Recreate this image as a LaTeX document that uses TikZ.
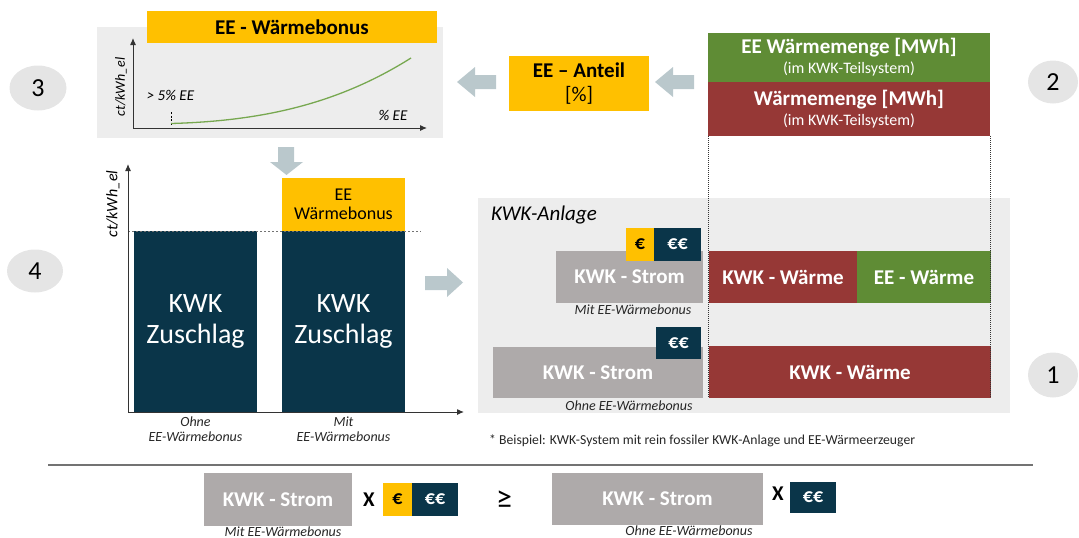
\documentclass[tikz,border=0pt]{standalone}
\usepackage{fontspec}
\setmainfont{Carlito}
\usetikzlibrary{arrows.meta,shapes.geometric}
\definecolor{eeyellow}{HTML}{FFC000}
\definecolor{eegreen}{HTML}{5F8C35}
\definecolor{kwkred}{HTML}{963836}
\definecolor{navy}{HTML}{0A3549}
\definecolor{stromgray}{HTML}{AEAAAA}
\definecolor{panelgray}{HTML}{EDEDED}
\definecolor{arrowgray}{HTML}{BAC8CC}
\definecolor{circgray}{HTML}{E5E5E5}
\definecolor{curvegreen}{HTML}{77A850}
\tikzset{
  box/.style={inner sep=0pt, outer sep=0pt, align=center},
  panel/.style={box, fill=panelgray},
  ybox/.style={box, fill=eeyellow, text=black},
  gbox/.style={box, fill=eegreen, text=white},
  rbox/.style={box, fill=kwkred, text=white},
  nbox/.style={box, fill=navy, text=white},
  sbox/.style={box, fill=stromgray, text=white},
  boxlabel/.style={font=\fontsize{21}{23}\selectfont\bfseries},
  note/.style={inner sep=0pt, align=center, font=\fontsize{14}{16}\selectfont\itshape, text=black!85},
  num/.style={ellipse, fill=circgray, inner sep=0pt, font=\fontsize{26}{28}\selectfont},
  axis/.style={line width=1pt, black!80, -{Latex[length=7pt,width=6pt]}},
  blockarrow/.style={fill=arrowgray},
  euro/.style={font=\fontsize{20}{22}\selectfont\bfseries},
}
\begin{document}
\begin{tikzpicture}[x=1pt,y=-1pt]
\useasboundingbox (0,0) rectangle (1079,538);

% ---------- Block 3: bonus curve ----------
\node[panel, minimum width=346pt, minimum height=111pt] (p3) at (270,82.5) {};
\node[ybox, minimum width=290pt, minimum height=32pt, font=\fontsize{21}{23}\selectfont\bfseries] (title) at (292,27) {EE - Wärmebonus};
\coordinate (o3) at (133,128);
\coordinate (y3) at (133,38);
\coordinate (x3) at (427,128);
\draw[axis] (o3) -- (y3);
\draw[axis] (o3) -- (x3);
\node[inner sep=0pt, rotate=90, font=\fontsize{14}{16}\selectfont\itshape] (yl3) at (121,87) {ct/kWh\_el};
\coordinate (d1) at (171,112);
\coordinate (d2) at (171,126);
\draw[dashed, dash pattern=on 2pt off 1.5pt, line width=0.7pt] (d1) -- (d2);
\node[inner sep=0pt, font=\fontsize{15}{17}\selectfont\itshape] (gt5) at (170.5,95) {> 5\% EE};
\node[inner sep=0pt, font=\fontsize{15}{17}\selectfont\itshape] (pee) at (393,115) {\% EE};
\coordinate (c0) at (171,123.5);
\coordinate (c3) at (411,58);
\draw[curvegreen, line width=1.3pt] (c0) .. controls (262,121) and (338,104) .. (c3);

% ---------- Block 2 ----------
\node[gbox, minimum width=282pt, minimum height=49pt, font=\fontsize{16}{20}\selectfont] (eew) at (849,57.5) {{\fontsize{21}{20}\selectfont\bfseries EE Wärmemenge [MWh]}\\(im KWK-Teilsystem)};
\node[rbox, minimum width=282pt, minimum height=54pt, font=\fontsize{16}{20}\selectfont] (ww) at (849,109) {{\fontsize{21}{20}\selectfont\bfseries Wärmemenge [MWh]}\\(im KWK-Teilsystem)};
\node[ybox, minimum width=140pt, minimum height=55pt, font=\fontsize{21}{24}\selectfont] (anteil) at (579,83.5) {\textbf{EE – Anteil}\\{}[\%]};

% left block arrows
\fill[blockarrow] (457,82) -- (475,67) -- (475,75) -- (496,75) -- (496,89) -- (475,89) -- (475,97) -- cycle;
\fill[blockarrow] (655,82) -- (673,67) -- (673,75) -- (694,75) -- (694,89) -- (673,89) -- (673,97) -- cycle;

% ---------- Block 4: bars ----------
\fill[blockarrow] (278,147) -- (294,147) -- (294,162) -- (303,162) -- (286.5,175) -- (270,162) -- (278,162) -- cycle;
\coordinate (o4) at (128,412);
\coordinate (y4) at (128,164);
\coordinate (x4) at (464,412);
\node[box, fill=navy, text=white, minimum width=123pt, minimum height=181pt, font=\fontsize{28}{31}\selectfont] (bar1) at (195.5,321.5) {KWK\\Zuschlag};
\node[box, fill=navy, text=white, minimum width=123pt, minimum height=181pt, font=\fontsize{28}{31}\selectfont] (bar2) at (343.5,321.5) {KWK\\Zuschlag};
\node[ybox, minimum width=123pt, minimum height=53pt, font=\fontsize{18}{19}\selectfont] (bonus) at (343.5,204.5) {EE\\Wärmebonus};
\coordinate (dl1) at (128,231);
\coordinate (dl2) at (421,231);
\draw[black!55, dashed, dash pattern=on 2pt off 2pt, line width=0.7pt] (dl1) -- (dl2);
\draw[axis] (o4) -- (y4);
\draw[axis] (o4) -- (x4);
\node[inner sep=0pt, rotate=90, font=\fontsize{16}{18}\selectfont\itshape] (yl4) at (113,204) {ct/kWh\_el};
\node[note, font=\fontsize{14}{14.5}\selectfont\itshape] (ohne4) at (195.5,429) {Ohne\\EE-Wärmebonus};
\node[note, font=\fontsize{14}{14.5}\selectfont\itshape] (mit4) at (343.5,429) {Mit\\EE-Wärmebonus};
\fill[blockarrow] (425,276) -- (447,276) -- (447,268) -- (463,282.5) -- (447,297) -- (447,290) -- (425,290) -- cycle;

% ---------- Block 1: KWK-Anlage ----------
\node[panel, minimum width=532pt, minimum height=215pt] (p1) at (744,305.5) {};
\node[anchor=west, inner sep=0pt, font=\fontsize{21}{23}\selectfont\itshape] (anl) at (491,215) {KWK-Anlage};
\node[sbox, boxlabel, minimum width=147pt, minimum height=52pt] (s1) at (629.5,277) {KWK - Strom};
\node[ybox, euro, minimum width=28pt, minimum height=33pt] (e1) at (640,244.5) {€};
\node[nbox, euro, minimum width=47pt, minimum height=33pt] (ee1) at (677.5,244.5) {€€};
\node[note] (mit1) at (633,310) {Mit EE-Wärmebonus};
\node[sbox, boxlabel, minimum width=210pt, minimum height=51pt] (s2) at (598,372.5) {KWK - Strom};
\node[nbox, euro, minimum width=45pt, minimum height=32pt] (ee2) at (678.5,343) {€€};
\node[note] (ohne1) at (629,406) {Ohne EE-Wärmebonus};
\node[rbox, boxlabel, minimum width=148pt, minimum height=52pt] (w1) at (783,277) {KWK - Wärme};
\node[gbox, boxlabel, minimum width=134pt, minimum height=52pt] (eew1) at (924,277) {EE - Wärme};
\node[rbox, boxlabel, minimum width=282pt, minimum height=52pt] (w2) at (850,372) {KWK - Wärme};
\coordinate (v1a) at (708,136);
\coordinate (v1b) at (708,398);
\coordinate (v2a) at (990.5,136);
\coordinate (v2b) at (990.5,398);
\draw[black!80, line width=0.6pt, dash pattern=on 1pt off 1pt] (v1a) -- (v1b);
\draw[black!80, line width=0.6pt, dash pattern=on 1pt off 1pt] (v2a) -- (v2b);
\node[anchor=west, inner sep=0pt, font=\fontsize{13.7}{15}\selectfont, text=black!85] (fn) at (489,441) {* Beispiel: KWK-System mit rein fossiler KWK-Anlage und EE-Wärmeerzeuger};

% ---------- number circles ----------
\node[num, minimum width=57pt, minimum height=45pt] (n3) at (38,88) {3};
\node[num, minimum width=56pt, minimum height=43pt] (n4) at (35,271) {4};
\node[num, minimum width=50pt, minimum height=43pt] (n2) at (1053,82) {2};
\node[num, minimum width=50pt, minimum height=45pt] (n1) at (1053,375) {1};

% ---------- bottom comparison ----------
\coordinate (h1) at (48,465);
\coordinate (h2) at (1033,465);
\draw[black!55, line width=1.5pt] (h1) -- (h2);
\node[sbox, boxlabel, minimum width=148pt, minimum height=53pt] (bs1) at (278,499.5) {KWK - Strom};
\node[note, anchor=base] (bmit) at (283,536) {Mit EE-Wärmebonus};
\node[inner sep=0pt, font=\fontsize{21}{23}\selectfont\bfseries] (x1) at (369,500) {X};
\node[ybox, euro, minimum width=29pt, minimum height=33pt] (be1) at (397.5,499.5) {€};
\node[nbox, euro, minimum width=46pt, minimum height=33pt] (bee1) at (435,499.5) {€€};
\node[inner sep=0pt, font=\fontsize{32}{34}\selectfont] (geq) at (504,500) {≥};
\node[sbox, boxlabel, minimum width=211pt, minimum height=52pt] (bs2) at (657.5,499) {KWK - Strom};
\node[note, anchor=base] (bohne) at (689,535) {Ohne EE-Wärmebonus};
\node[inner sep=0pt, font=\fontsize{21}{23}\selectfont\bfseries] (x2) at (778,494) {X};
\node[nbox, euro, minimum width=46pt, minimum height=31pt] (bee2) at (813,497.5) {€€};
\end{tikzpicture}
\end{document}
